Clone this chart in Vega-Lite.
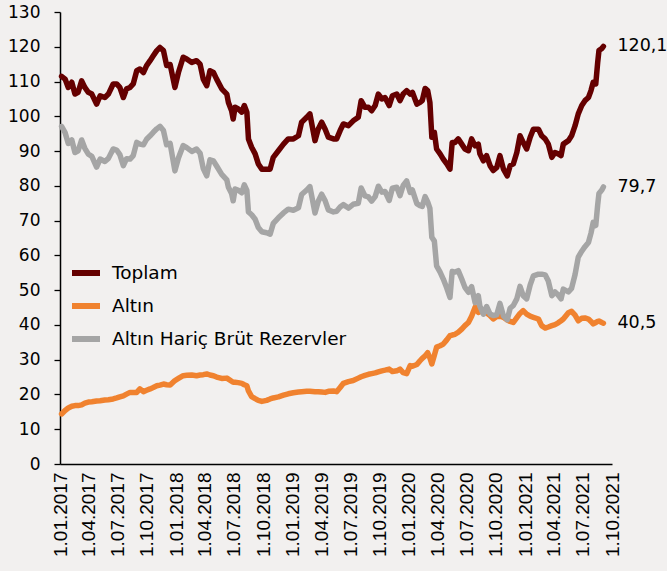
{
"$schema":"https://vega.github.io/schema/vega-lite/v6.json",
"width":552,"height":452,
"autosize":{"type":"none"},
"padding":{"left":60,"top":12,"right":55,"bottom":107},
"background":"#F2F0EF",
"config":{"view":{"stroke":null},"font":"DejaVu Sans"},
"datasets":{
"series":[
{"d":"2017-01-06","T":111.5,"A":14.4,"G":97.1},
{"d":"2017-01-17","T":110.7,"A":15.4,"G":95.3},
{"d":"2017-01-27","T":108.3,"A":16.1,"G":92.2},
{"d":"2017-02-07","T":109.8,"A":16.6,"G":93.2},
{"d":"2017-02-17","T":106.4,"A":16.8,"G":89.6},
{"d":"2017-02-27","T":106.9,"A":16.8,"G":90.1},
{"d":"2017-03-10","T":110.2,"A":17.0,"G":93.2},
{"d":"2017-03-20","T":108.3,"A":17.5,"G":90.8},
{"d":"2017-03-31","T":106.9,"A":17.8,"G":89.1},
{"d":"2017-04-11","T":106.4,"A":17.9,"G":88.5},
{"d":"2017-04-26","T":103.5,"A":18.1,"G":85.4},
{"d":"2017-05-07","T":105.9,"A":18.2,"G":87.7},
{"d":"2017-05-22","T":105.4,"A":18.4,"G":87.0},
{"d":"2017-06-02","T":106.4,"A":18.5,"G":87.9},
{"d":"2017-06-17","T":109.3,"A":18.7,"G":90.6},
{"d":"2017-06-28","T":109.3,"A":19.0,"G":90.3},
{"d":"2017-07-08","T":108.3,"A":19.3,"G":89.0},
{"d":"2017-07-19","T":105.4,"A":19.6,"G":85.8},
{"d":"2017-07-29","T":107.9,"A":20.1,"G":87.8},
{"d":"2017-08-09","T":108.3,"A":20.6,"G":87.7},
{"d":"2017-08-19","T":109.3,"A":20.6,"G":88.7},
{"d":"2017-08-30","T":113.1,"A":20.6,"G":92.5},
{"d":"2017-09-09","T":113.6,"A":21.6,"G":92.0},
{"d":"2017-09-20","T":112.6,"A":20.8,"G":91.8},
{"d":"2017-09-30","T":114.6,"A":21.2,"G":93.4},
{"d":"2017-10-11","T":116.0,"A":21.6,"G":94.4},
{"d":"2017-10-21","T":117.4,"A":22.0,"G":95.4},
{"d":"2017-11-01","T":118.9,"A":22.5,"G":96.4},
{"d":"2017-11-11","T":119.8,"A":22.7,"G":97.1},
{"d":"2017-11-22","T":118.9,"A":23.0,"G":95.9},
{"d":"2017-12-02","T":114.6,"A":22.8,"G":91.8},
{"d":"2017-12-13","T":114.9,"A":22.7,"G":92.2},
{"d":"2017-12-28","T":108.3,"A":24.0,"G":84.3},
{"d":"2018-01-08","T":112.6,"A":24.6,"G":88.0},
{"d":"2018-01-23","T":117.0,"A":25.4,"G":91.6},
{"d":"2018-02-03","T":116.5,"A":25.5,"G":91.0},
{"d":"2018-02-19","T":115.5,"A":25.6,"G":89.9},
{"d":"2018-03-06","T":116.0,"A":25.4,"G":90.6},
{"d":"2018-03-17","T":115.0,"A":25.6,"G":89.4},
{"d":"2018-03-27","T":110.7,"A":25.7,"G":85.0},
{"d":"2018-04-07","T":108.8,"A":25.9,"G":82.9},
{"d":"2018-04-17","T":113.1,"A":25.6,"G":87.5},
{"d":"2018-04-28","T":112.6,"A":25.4,"G":87.2},
{"d":"2018-05-08","T":110.7,"A":25.0,"G":85.7},
{"d":"2018-05-24","T":107.9,"A":24.6,"G":83.3},
{"d":"2018-06-09","T":106.4,"A":24.7,"G":81.7},
{"d":"2018-06-14","T":104.0,"A":24.4,"G":79.6},
{"d":"2018-06-24","T":101.6,"A":23.8,"G":77.8},
{"d":"2018-06-29","T":99.2,"A":23.5,"G":75.7},
{"d":"2018-07-05","T":102.6,"A":23.5,"G":79.1},
{"d":"2018-07-15","T":102.1,"A":23.4,"G":78.7},
{"d":"2018-07-26","T":101.2,"A":23.2,"G":78.0},
{"d":"2018-08-03","T":103.1,"A":22.8,"G":80.3},
{"d":"2018-08-11","T":101.2,"A":22.5,"G":78.7},
{"d":"2018-08-16","T":93.5,"A":21.0,"G":72.5},
{"d":"2018-08-26","T":91.1,"A":19.4,"G":71.7},
{"d":"2018-09-06","T":89.2,"A":18.8,"G":70.4},
{"d":"2018-09-16","T":86.3,"A":18.3,"G":68.0},
{"d":"2018-09-27","T":84.8,"A":18.0,"G":66.8},
{"d":"2018-10-12","T":84.8,"A":18.3,"G":66.5},
{"d":"2018-10-23","T":84.8,"A":18.7,"G":66.1},
{"d":"2018-11-02","T":88.2,"A":19.0,"G":69.2},
{"d":"2018-11-18","T":90.1,"A":19.3,"G":70.8},
{"d":"2018-12-04","T":92.0,"A":19.8,"G":72.2},
{"d":"2018-12-19","T":93.5,"A":20.2,"G":73.3},
{"d":"2019-01-04","T":93.5,"A":20.5,"G":73.0},
{"d":"2019-01-20","T":94.4,"A":20.7,"G":73.7},
{"d":"2019-01-30","T":98.3,"A":20.8,"G":77.5},
{"d":"2019-02-15","T":99.7,"A":20.9,"G":78.8},
{"d":"2019-02-25","T":100.7,"A":20.9,"G":79.8},
{"d":"2019-03-13","T":93.0,"A":20.8,"G":72.2},
{"d":"2019-03-23","T":96.3,"A":20.8,"G":75.5},
{"d":"2019-04-03","T":98.3,"A":20.7,"G":77.6},
{"d":"2019-04-14","T":96.3,"A":20.6,"G":75.7},
{"d":"2019-04-24","T":94.0,"A":20.9,"G":73.1},
{"d":"2019-05-10","T":93.5,"A":21.0,"G":72.5},
{"d":"2019-05-20","T":93.5,"A":20.8,"G":72.7},
{"d":"2019-05-31","T":95.9,"A":22.0,"G":73.9},
{"d":"2019-06-10","T":97.8,"A":23.2,"G":74.6},
{"d":"2019-06-26","T":97.3,"A":23.7,"G":73.6},
{"d":"2019-07-11","T":98.7,"A":24.0,"G":74.7},
{"d":"2019-07-27","T":99.7,"A":24.7,"G":75.0},
{"d":"2019-08-05","T":104.5,"A":25.1,"G":79.4},
{"d":"2019-08-17","T":102.6,"A":25.5,"G":77.1},
{"d":"2019-08-28","T":102.6,"A":25.8,"G":76.8},
{"d":"2019-09-07","T":101.6,"A":26.0,"G":75.6},
{"d":"2019-09-18","T":103.1,"A":26.2,"G":76.9},
{"d":"2019-09-28","T":106.4,"A":26.5,"G":79.9},
{"d":"2019-10-09","T":105.0,"A":26.8,"G":78.2},
{"d":"2019-10-19","T":105.4,"A":27.0,"G":78.4},
{"d":"2019-11-01","T":103.1,"A":27.3,"G":75.8},
{"d":"2019-11-11","T":105.9,"A":26.6,"G":79.3},
{"d":"2019-11-25","T":106.4,"A":26.8,"G":79.6},
{"d":"2019-12-05","T":104.5,"A":27.3,"G":77.2},
{"d":"2019-12-15","T":106.4,"A":26.3,"G":80.1},
{"d":"2019-12-26","T":107.4,"A":26.0,"G":81.4},
{"d":"2020-01-06","T":106.4,"A":28.3,"G":78.1},
{"d":"2020-01-13","T":106.9,"A":28.1,"G":78.8},
{"d":"2020-01-27","T":103.5,"A":28.6,"G":74.9},
{"d":"2020-02-06","T":104.0,"A":29.7,"G":74.3},
{"d":"2020-02-13","T":104.5,"A":30.4,"G":74.1},
{"d":"2020-02-22","T":108.0,"A":31.1,"G":76.9},
{"d":"2020-03-01","T":107.4,"A":32.0,"G":75.4},
{"d":"2020-03-08","T":104.0,"A":30.5,"G":73.5},
{"d":"2020-03-14","T":94.0,"A":28.8,"G":65.2},
{"d":"2020-03-22","T":95.4,"A":31.3,"G":64.1},
{"d":"2020-03-29","T":90.6,"A":33.6,"G":57.0},
{"d":"2020-04-09","T":89.2,"A":34.0,"G":55.2},
{"d":"2020-04-19","T":87.7,"A":34.5,"G":53.2},
{"d":"2020-04-30","T":86.3,"A":35.7,"G":50.6},
{"d":"2020-05-10","T":84.8,"A":36.9,"G":47.9},
{"d":"2020-05-17","T":92.5,"A":37.1,"G":55.4},
{"d":"2020-05-26","T":92.5,"A":37.3,"G":55.2},
{"d":"2020-06-05","T":93.5,"A":37.9,"G":55.6},
{"d":"2020-06-16","T":92.0,"A":38.8,"G":53.2},
{"d":"2020-06-26","T":90.6,"A":39.8,"G":50.8},
{"d":"2020-07-07","T":90.1,"A":40.7,"G":49.4},
{"d":"2020-07-17","T":93.5,"A":42.5,"G":51.0},
{"d":"2020-07-28","T":91.5,"A":45.1,"G":46.4},
{"d":"2020-08-07","T":92.0,"A":43.6,"G":48.4},
{"d":"2020-08-12","T":89.2,"A":43.8,"G":45.4},
{"d":"2020-08-23","T":87.2,"A":44.1,"G":43.1},
{"d":"2020-09-02","T":88.7,"A":43.4,"G":45.3},
{"d":"2020-09-13","T":85.8,"A":42.7,"G":43.1},
{"d":"2020-09-23","T":84.4,"A":41.7,"G":42.7},
{"d":"2020-10-04","T":85.3,"A":42.4,"G":42.9},
{"d":"2020-10-14","T":88.7,"A":42.5,"G":46.2},
{"d":"2020-10-25","T":84.8,"A":42.2,"G":42.6},
{"d":"2020-11-06","T":82.9,"A":41.4,"G":41.5},
{"d":"2020-11-15","T":85.8,"A":41.0,"G":44.8},
{"d":"2020-11-25","T":86.3,"A":40.7,"G":45.6},
{"d":"2020-12-06","T":89.6,"A":42.1,"G":47.5},
{"d":"2020-12-16","T":94.4,"A":43.3,"G":51.1},
{"d":"2020-12-26","T":92.5,"A":44.1,"G":48.4},
{"d":"2021-01-06","T":90.6,"A":43.1,"G":47.5},
{"d":"2021-01-17","T":94.0,"A":42.5,"G":51.5},
{"d":"2021-01-27","T":96.3,"A":42.2,"G":54.1},
{"d":"2021-02-12","T":96.3,"A":41.7,"G":54.6},
{"d":"2021-02-22","T":94.4,"A":39.8,"G":54.6},
{"d":"2021-03-05","T":93.5,"A":39.1,"G":54.4},
{"d":"2021-03-15","T":92.0,"A":39.4,"G":52.6},
{"d":"2021-03-26","T":88.2,"A":39.8,"G":48.4},
{"d":"2021-04-05","T":89.6,"A":40.1,"G":49.5},
{"d":"2021-04-15","T":89.2,"A":40.6,"G":48.6},
{"d":"2021-04-24","T":88.7,"A":41.2,"G":47.5},
{"d":"2021-05-01","T":92.0,"A":41.7,"G":50.3},
{"d":"2021-05-17","T":93.0,"A":43.5,"G":49.5},
{"d":"2021-05-27","T":94.4,"A":43.9,"G":50.5},
{"d":"2021-06-07","T":97.3,"A":42.8,"G":54.5},
{"d":"2021-06-17","T":100.7,"A":41.2,"G":59.5},
{"d":"2021-06-28","T":103.1,"A":41.9,"G":61.2},
{"d":"2021-07-08","T":104.5,"A":42.0,"G":62.5},
{"d":"2021-07-19","T":105.4,"A":41.7,"G":63.7},
{"d":"2021-07-27","T":107.4,"A":41.0,"G":66.4},
{"d":"2021-08-03","T":109.8,"A":40.3,"G":69.5},
{"d":"2021-08-11","T":109.3,"A":40.7,"G":68.6},
{"d":"2021-08-17","T":115.5,"A":41.0,"G":74.5},
{"d":"2021-08-21","T":118.9,"A":41.1,"G":77.8},
{"d":"2021-08-30","T":119.5,"A":40.7,"G":78.8},
{"d":"2021-09-04","T":120.1,"A":40.5,"G":79.7}
],
"labels":[
{"d":"2021-09-04","v":120.1,"lab":"120,1"},
{"d":"2021-09-04","v":79.7,"lab":"79,7"},
{"d":"2021-09-04","v":40.5,"lab":"40,5"}
]
},
"encoding":{
"x":{"field":"d","type":"temporal",
"scale":{"type":"utc","domain":[{"year":2017,"month":1,"date":1,"utc":true},{"year":2021,"month":10,"date":1,"utc":true}]},
"axis":{"title":null,"format":"%-d.%m.%Y","labelAngle":-90,"ticks":false,"grid":false,
"values":[
{"year":2017,"month":1,"date":1,"utc":true},{"year":2017,"month":4,"date":1,"utc":true},{"year":2017,"month":7,"date":1,"utc":true},{"year":2017,"month":10,"date":1,"utc":true},
{"year":2018,"month":1,"date":1,"utc":true},{"year":2018,"month":4,"date":1,"utc":true},{"year":2018,"month":7,"date":1,"utc":true},{"year":2018,"month":10,"date":1,"utc":true},
{"year":2019,"month":1,"date":1,"utc":true},{"year":2019,"month":4,"date":1,"utc":true},{"year":2019,"month":7,"date":1,"utc":true},{"year":2019,"month":10,"date":1,"utc":true},
{"year":2020,"month":1,"date":1,"utc":true},{"year":2020,"month":4,"date":1,"utc":true},{"year":2020,"month":7,"date":1,"utc":true},{"year":2020,"month":10,"date":1,"utc":true},
{"year":2021,"month":1,"date":1,"utc":true},{"year":2021,"month":4,"date":1,"utc":true},{"year":2021,"month":7,"date":1,"utc":true},{"year":2021,"month":10,"date":1,"utc":true}],
"labelFont":"Liberation Sans","labelFontSize":19,"labelColor":"#000000","labelPadding":8,
"labelOverlap":false,"labelFlush":false,"labelBound":false,
"domainColor":"#000000","domainWidth":1.5}},
"y":{"field":"v","type":"quantitative",
"scale":{"domain":[0,130],"nice":false,"zero":true},
"axis":{"title":null,"values":[0,10,20,30,40,50,60,70,80,90,100,110,120,130],"grid":false,
"tickSize":6,"tickColor":"#000000","tickWidth":1.3,"labelPadding":14,
"labelFont":"DejaVu Sans","labelFontSize":17,"labelColor":"#000000",
"labelOverlap":false,"labelFlush":false,"labelBound":false,
"domainColor":"#000000","domainWidth":1.5}}
},
"layer":[
{"data":{"name":"series"},
"transform":[{"fold":["T","A","G"],"as":["s","v"]}],
"mark":{"type":"line","strokeWidth":5.5,"strokeCap":"round","strokeJoin":"round"},
"encoding":{
"color":{"field":"s","type":"nominal",
"scale":{"domain":["T","A","G"],"range":["#650000","#F0822F","#A5A5A5"]},
"legend":{"title":null,"orient":"none","legendX":9,"legendY":244,
"labelExpr":"datum.value == 'T' ? 'Toplam' : datum.value == 'A' ? 'Altın' : 'Altın Hariç Brüt Rezervler'",
"symbolType":"stroke","symbolStrokeWidth":6,"symbolSize":784,
"labelFont":"DejaVu Sans","labelFontSize":18.5,"labelColor":"#000000","labelOffset":9,"rowPadding":4,"labelLimit":400}}
}},
{"data":{"name":"labels"},
"mark":{"type":"text","align":"left","baseline":"middle","dx":14,"font":"DejaVu Sans","fontSize":17.5,"color":"#000000"},
"encoding":{"text":{"field":"lab","type":"nominal"}}}
]
}
